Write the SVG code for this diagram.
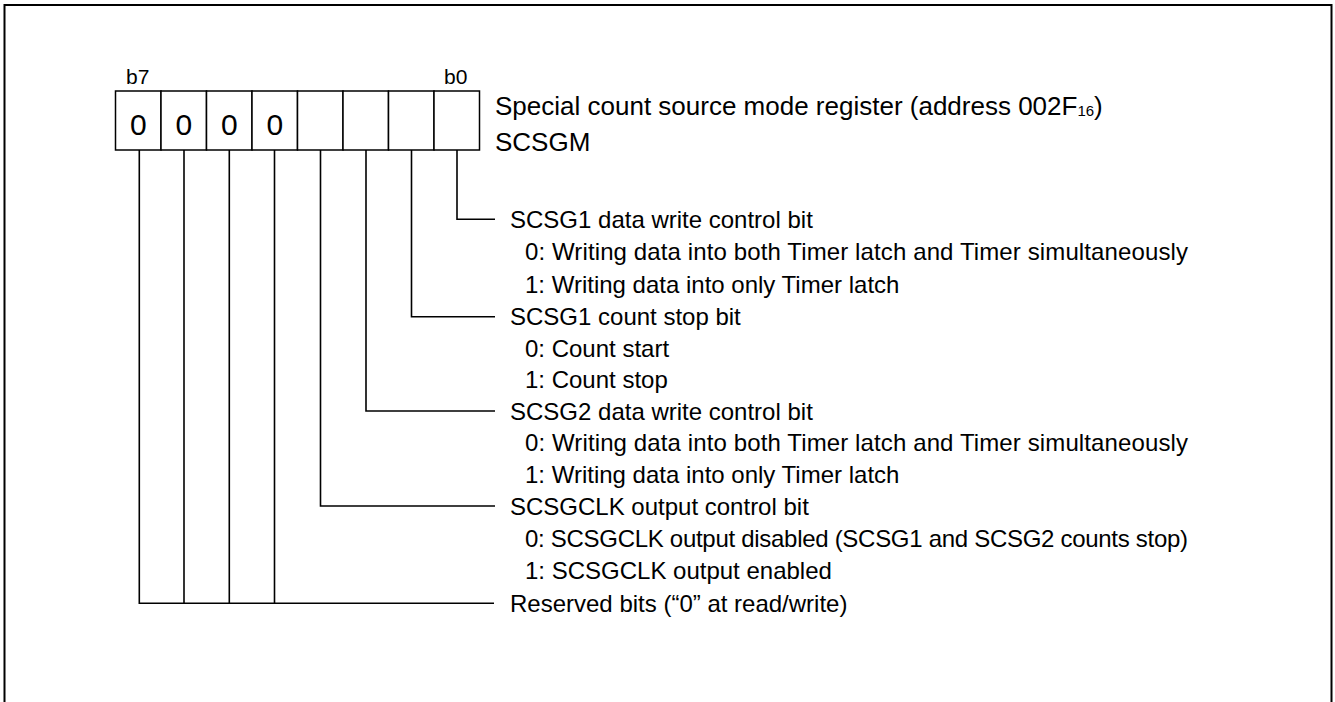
<svg xmlns="http://www.w3.org/2000/svg" width="1335" height="702" viewBox="0 0 1335 702">
<style>
.t{font-family:"Liberation Sans",Arial,sans-serif;font-size:24px;fill:#000}
.h{font-family:"Liberation Sans",Arial,sans-serif;font-size:26px;fill:#000}
.b{font-family:"Liberation Sans",Arial,sans-serif;font-size:21px;fill:#000}
.z{font-family:"Liberation Sans",Arial,sans-serif;font-size:30px;fill:#000;text-anchor:middle}
.cell{fill:#fff;stroke:#000;stroke-width:1.5}
.c{fill:none;stroke:#000;stroke-width:1.6}
</style>
<rect x="0" y="0" width="1335" height="702" fill="#fff"/>
<path d="M4.5,712 V5 H1331.5 V712" fill="none" stroke="#000" stroke-width="2"/>
<g id="register">
<text class="b" x="126" y="84">b7</text>
<text class="b" x="444" y="84">b0</text>
<rect class="cell" x="115.5" y="91" width="45.5" height="59"/>
<rect class="cell" x="161" y="91" width="45.5" height="59"/>
<rect class="cell" x="206.5" y="91" width="45.5" height="59"/>
<rect class="cell" x="252" y="91" width="45.5" height="59"/>
<rect class="cell" x="297.5" y="91" width="45.5" height="59"/>
<rect class="cell" x="343" y="91" width="45.5" height="59"/>
<rect class="cell" x="388.5" y="91" width="45.5" height="59"/>
<rect class="cell" x="434" y="91" width="45.5" height="59"/>
<text class="z" x="138.25" y="134.5">0</text>
<text class="z" x="183.75" y="134.5">0</text>
<text class="z" x="229.25" y="134.5">0</text>
<text class="z" x="274.75" y="134.5">0</text>
</g>
<g id="title">
<text class="h" x="495" y="115">Special count source mode register (address 002F<tspan font-size="15" dy="1">16</tspan><tspan dy="-1">)</tspan></text>
<text class="h" x="495" y="151">SCSGM</text>
</g>
<g id="connectors">
<path class="c" d="M457,150 V219.3 H495"/>
<path class="c" d="M411.5,150 V316.7 H495"/>
<path class="c" d="M366,150 V411 H495"/>
<path class="c" d="M320.5,150 V506 H495"/>
<path class="c" d="M139.3,150 V603.3 H494"/>
<path class="c" d="M184,150 V603.3"/>
<path class="c" d="M229.3,150 V603.3"/>
<path class="c" d="M274.5,150 V603.3"/>
</g>
<g id="bit0">
<text class="t" x="510" y="228">SCSG1 data write control bit</text>
<text class="t" x="525" y="260" textLength="663" lengthAdjust="spacing">0: Writing data into both Timer latch and Timer simultaneously</text>
<text class="t" x="525" y="292.5">1: Writing data into only Timer latch</text>
</g>
<g id="bit1">
<text class="t" x="510" y="325">SCSG1 count stop bit</text>
<text class="t" x="525" y="357">0: Count start</text>
<text class="t" x="525" y="388">1: Count stop</text>
</g>
<g id="bit2">
<text class="t" x="510" y="419.5">SCSG2 data write control bit</text>
<text class="t" x="525" y="451" textLength="663" lengthAdjust="spacing">0: Writing data into both Timer latch and Timer simultaneously</text>
<text class="t" x="525" y="483">1: Writing data into only Timer latch</text>
</g>
<g id="bit3">
<text class="t" x="510" y="514.5">SCSGCLK output control bit</text>
<text class="t" x="525" y="547" textLength="663" lengthAdjust="spacing">0: SCSGCLK output disabled (SCSG1 and SCSG2 counts stop)</text>
<text class="t" x="525" y="579">1: SCSGCLK output enabled</text>
</g>
<g id="reserved">
<text class="t" x="510" y="611.5">Reserved bits (“0” at read/write)</text>
</g>
</svg>
